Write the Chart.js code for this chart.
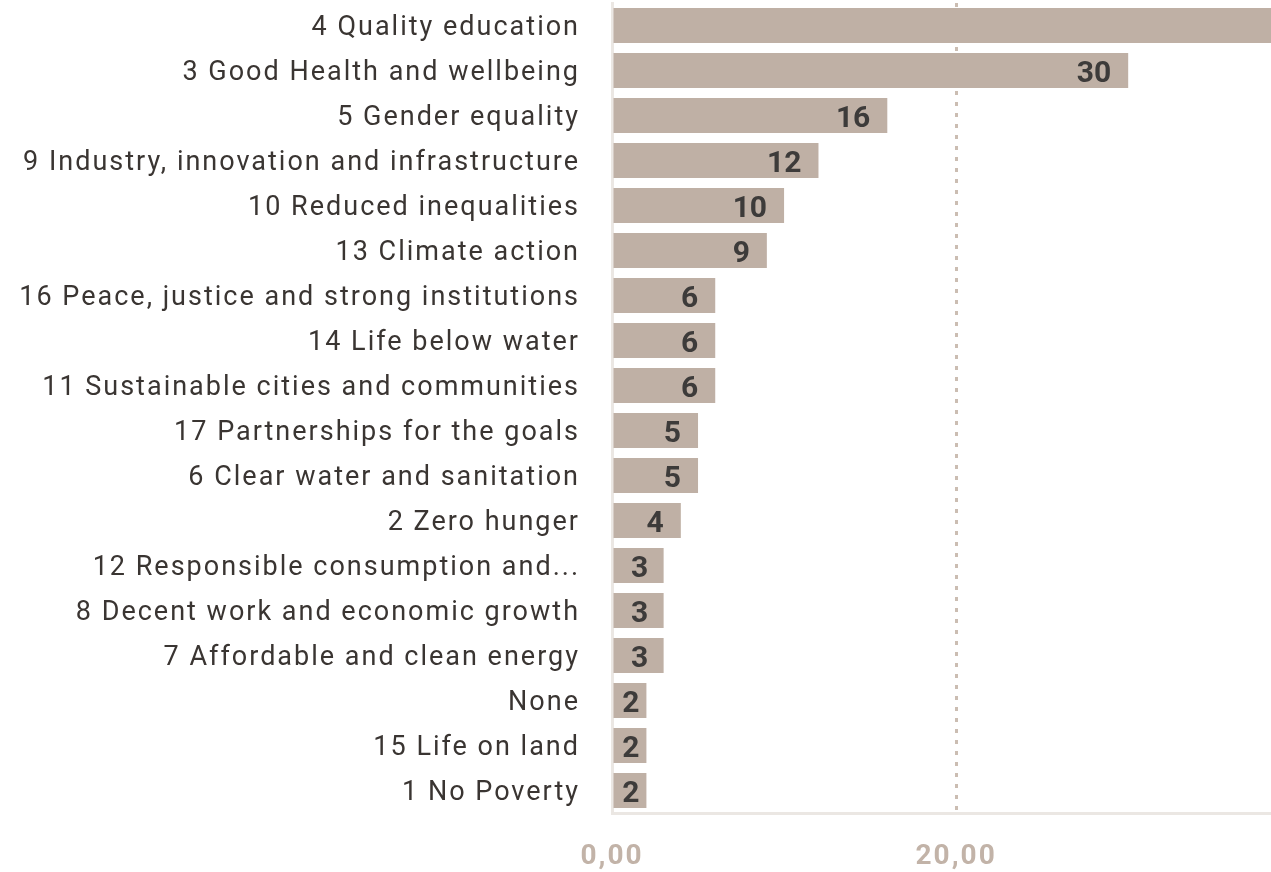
<!DOCTYPE html>
<html>
<head>
<meta charset="utf-8">
<script src="https://cdn.jsdelivr.net/npm/chart.js@4"></script>
<style>
  html, body { margin: 0; padding: 0; background: #fff; }
  #wrap { width: 1271px; height: 872px; }
</style>
</head>
<body>
<div id="wrap"><canvas id="myChart"></canvas></div>
<script>
const goals = [
  "4 Quality education",
  "3 Good Health and wellbeing",
  "5 Gender equality",
  "9 Industry, innovation and infrastructure",
  "10 Reduced inequalities",
  "13 Climate action",
  "16 Peace, justice and strong institutions",
  "14 Life below water",
  "11 Sustainable cities and communities",
  "17 Partnerships for the goals",
  "6 Clear water and sanitation",
  "2 Zero hunger",
  "12 Responsible consumption and...",
  "8 Decent work and economic growth",
  "7 Affordable and clean energy",
  "None",
  "15 Life on land",
  "1 No Poverty",
];
const counts = [45, 30, 16, 12, 10, 9, 6, 6, 6, 5, 5, 4, 3, 3, 3, 2, 2, 2];
const xTicks = [0, 20];

// DIN-like spacing for the axis text
const spacing = {
  id: "spacing",
  beforeDraw(chart) {
    chart.ctx.letterSpacing = "2px";
  },
  beforeDatasetsDraw(chart) {
    chart.ctx.letterSpacing = "0px";
  },
};

const barLabels = {
  id: "barLabels",
  afterDatasetsDraw(chart) {
    const c = chart.ctx;
    const area = chart.chartArea;
    const meta = chart.getDatasetMeta(0);
    c.save();
    c.letterSpacing = "0px";
    c.font = "bold 30px Roboto";
    c.fillStyle = "#3d3b3a";
    c.textBaseline = "middle";
    meta.data.forEach((bar, i) => {
      if (bar.x > area.right) return;
      const txt = String(counts[i]);
      const w = c.measureText(txt).width;
      const bw = bar.x - bar.base;
      let x;
      if (w + 34 > bw) {
        c.textAlign = "center";
        x = (bar.x + bar.base) / 2 + 1;
      } else {
        c.textAlign = "right";
        x = bar.x - 17;
      }
      c.fillText(txt, x, bar.y + 4);
    });
    c.restore();
  },
};

const myChart = new Chart(document.getElementById("myChart"), {
  type: "bar",
  data: {
    labels: goals,
    datasets: [
      {
        data: counts,
        backgroundColor: "#bfb0a5",
        barPercentage: 0.78,
        categoryPercentage: 1,
      },
    ],
  },
  options: {
    indexAxis: "y",
    responsive: true,
    maintainAspectRatio: false,
    animation: false,
    layout: { padding: { top: 3, right: 0, left: 0, bottom: 0 } },
    plugins: {
      legend: { display: false },
      tooltip: { enabled: false },
    },
    scales: {
      x: {
        min: 0,
        max: 38.3,
        afterBuildTicks: (scale) => {
          scale.ticks = xTicks.map((v) => ({ value: v }));
        },
        afterFit: (scale) => {
          scale.height = 59;
          scale.paddingLeft = 0;
          scale.paddingRight = 0;
        },
        ticks: {
          padding: 27,
          color: "#c2b3a8",
          font: { family: "Roboto", size: 28, weight: "bold" },
          callback: (v) => v.toFixed(2).replace(".", ","),
        },
        grid: {
          drawTicks: false,
          lineWidth: 3,
          color: (ctx) => (ctx.tick && ctx.tick.value === 20 ? "#cbbdb2" : "transparent"),
        },
        border: { display: true, color: "#ebe7e3", width: 3, dash: [4, 7] },
      },
      y: {
        afterFit: (scale) => {
          scale.width = 612;
          scale.paddingTop = 0;
          scale.paddingBottom = 0;
        },
        ticks: {
          padding: 32,
          labelOffset: 3,
          color: "#3a3532",
          font: { family: "Roboto", size: 27, weight: "normal" },
        },
        grid: { display: false, drawTicks: false },
        border: { display: true, color: "#ebe7e3", width: 3 },
      },
    },
  },
  plugins: [spacing, barLabels],
});
</script>
</body>
</html>
